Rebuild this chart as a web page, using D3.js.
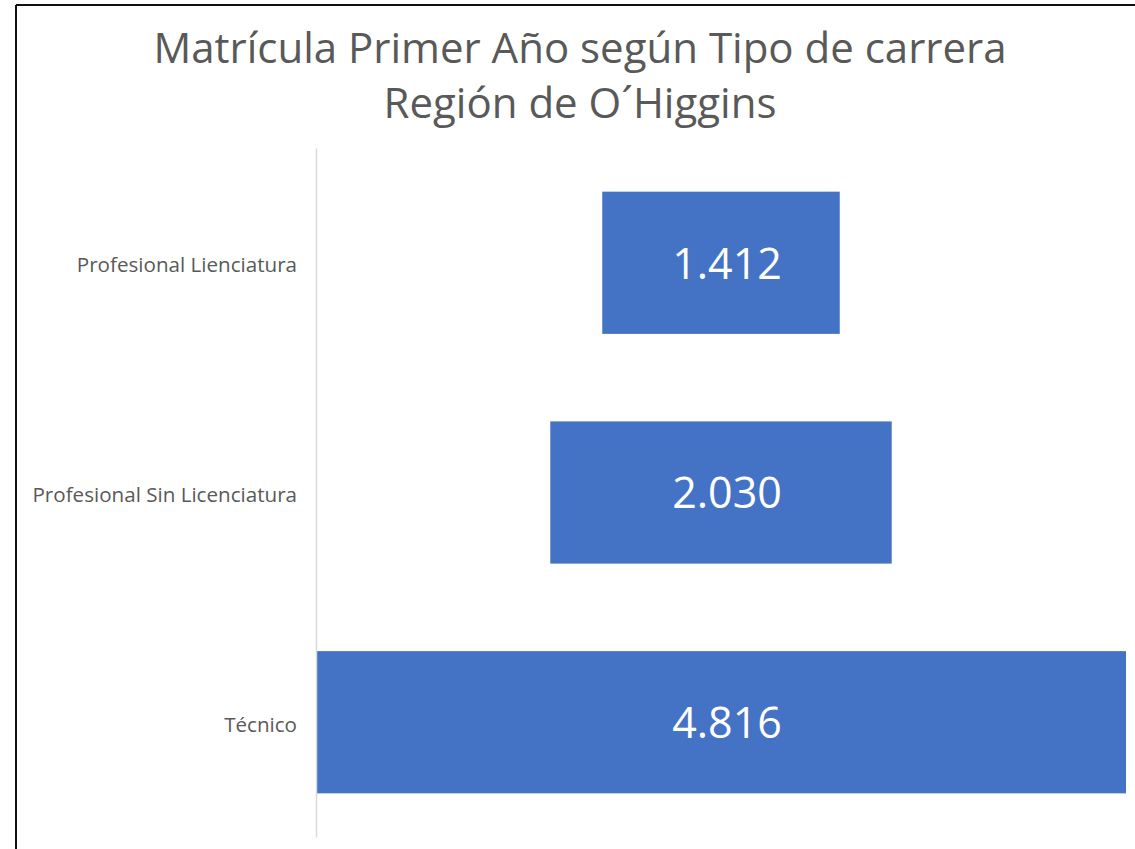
<!DOCTYPE html>
<html lang="es">
<head>
  <meta charset="UTF-8">
  <title>Matrícula Primer Año según Tipo de carrera</title>
  <style>
    body { margin: 0; background: #fff; }
    text { font-family: "Open Sans", sans-serif; }
  </style>
</head>
<body>
  <svg id="chart" width="1135" height="849"></svg>

  <script src="https://d3js.org/d3.v7.min.js"></script>
  <script>
    // Data
    const categories = ['Profesional Lienciatura', 'Profesional Sin Licenciatura', 'Técnico']
    const values = [1412, 2030, 4816]
    const valueLabels = ['1.412', '2.030', '4.816']
    const titleLines = ['Matrícula Primer Año según Tipo de carrera', 'Región de O´Higgins']

    const svg = d3.select('#chart')

    // frame (the picture is cropped, only top and left edges show)
    svg.append('line')
      .attr('x1', 16).attr('y1', 5).attr('x2', 1135).attr('y2', 5)
      .attr('stroke', '#111').attr('stroke-width', 2)
    svg.append('line')
      .attr('x1', 16).attr('y1', 5).attr('x2', 16).attr('y2', 849)
      .attr('stroke', '#111').attr('stroke-width', 2)

    // Title
    svg.append('text')
      .attr('text-anchor', 'middle')
      .attr('fill', '#595959')
      .style('font-size', '42px')
      .selectAll('tspan')
      .data(titleLines)
      .enter()
      .append('tspan')
      .attr('x', 580)
      .attr('y', (d, i) => 63 + i * 55)
      .text(d => d)

    // Scales
    const axisX = 316
    const plotWidth = 810
    const yscale = d3.scaleBand()
      .domain(categories)
      .range([148, 837])
      .paddingInner(0.381)
      .paddingOuter(0.19)

    const wscale = d3.scaleLinear()
      .domain([0, d3.max(values)])
      .range([0, plotWidth])

    const centerX = axisX + plotWidth / 2

    // Bars
    svg.append('g')
      .selectAll('rect')
      .data(categories)
      .enter()
      .append('rect')
      .attr('x', (d, i) => centerX - wscale(values[i]) / 2)
      .attr('y', d => yscale(d))
      .attr('width', (d, i) => wscale(values[i]))
      .attr('height', yscale.bandwidth())
      .attr('fill', '#4472c4')

    // Value labels
    svg.append('g')
      .selectAll('text')
      .data(categories)
      .enter()
      .append('text')
      .attr('x', centerX + 6)
      .attr('y', d => yscale(d) + yscale.bandwidth() / 2)
      .attr('dy', '0.37em')
      .attr('text-anchor', 'middle')
      .attr('fill', '#fff')
      .style('font-size', '43px')
      .text((d, i) => valueLabels[i])

    // Left axis
    const leftAxis = d3.axisLeft(yscale).tickSize(0).tickPadding(19)
    const axisG = svg.append('g')
      .attr('transform', `translate(${axisX}, 0)`)
      .call(leftAxis)
    axisG.select('.domain').attr('stroke', '#d9d9d9').attr('stroke-width', 1.5)
    axisG.selectAll('.tick text')
      .attr('fill', '#595959')
      .attr('dy', '0.45em')
      .style('font-size', '20.6px')
      .style('font-family', '"Open Sans", sans-serif')
  </script>
</body>
</html>
